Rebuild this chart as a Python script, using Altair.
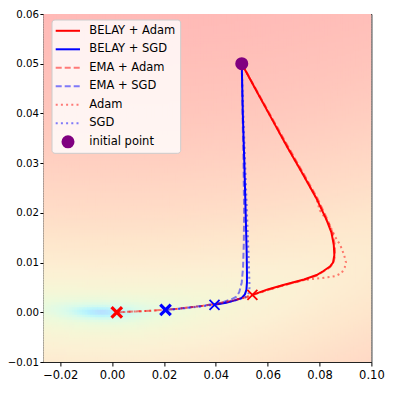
import altair as alt
import pandas as pd

# ---------------- data ----------------
belay_adam_x = [0.0500, 0.0560, 0.0620, 0.0676, 0.0732, 0.0787, 0.0827, 0.0846, 0.0855, 0.0857, 0.0852, 0.0840, 0.0815, 0.0789, 0.0740, 0.0660, 0.0600, 0.0541]
belay_adam_y = [0.0500, 0.0442, 0.0385, 0.0332, 0.0281, 0.0230, 0.0186, 0.0160, 0.0135, 0.0115, 0.0100, 0.0092, 0.0083, 0.0075, 0.0066, 0.0055, 0.0046, 0.0035]

belay_sgd_x = [0.0500, 0.0504, 0.0510, 0.0515, 0.0519, 0.0520, 0.0520, 0.0518, 0.0512, 0.0500, 0.0480, 0.0440, 0.0395]
belay_sgd_y = [0.0500, 0.0400, 0.0300, 0.0200, 0.0120, 0.0080, 0.0060, 0.0045, 0.0036, 0.0029, 0.0025, 0.0019, 0.0015]

ema_adam_x = [0.0500, 0.0562, 0.0623, 0.0680, 0.0736, 0.0791, 0.0831, 0.0850, 0.0859, 0.0860, 0.0854, 0.0841, 0.0815, 0.0789, 0.0740, 0.0660, 0.0600, 0.0541, 0.0500, 0.0450, 0.0400, 0.0350, 0.0300, 0.0250, 0.0200, 0.0150, 0.0100, 0.0060, 0.0018]
ema_adam_y = [0.0500, 0.0442, 0.0385, 0.0332, 0.0281, 0.0230, 0.0186, 0.0160, 0.0135, 0.0115, 0.0100, 0.0091, 0.0082, 0.0074, 0.0065, 0.0054, 0.0045, 0.0034, 0.0028, 0.0022, 0.0017, 0.0013, 0.0010, 0.0007, 0.0005, 0.0003, 0.0002, 0.0001, 0.0000]

ema_sgd_x = [0.0500, 0.0503, 0.0507, 0.0509, 0.0508, 0.0505, 0.0500, 0.0490, 0.0478, 0.0460, 0.0430, 0.0400, 0.0350, 0.0300, 0.0250, 0.0206]
ema_sgd_y = [0.0500, 0.0400, 0.0300, 0.0200, 0.0140, 0.0090, 0.0060, 0.0040, 0.0031, 0.0026, 0.0021, 0.0017, 0.0013, 0.0010, 0.0007, 0.0005]

adam_x = [0.0500, 0.0560, 0.0620, 0.0676, 0.0732, 0.0787, 0.0801, 0.0835, 0.0859, 0.0880, 0.0895, 0.0902, 0.0897, 0.0885, 0.0862, 0.0840, 0.0810, 0.0776, 0.0740, 0.0700, 0.0640, 0.0590, 0.0541, 0.0500, 0.0450, 0.0400, 0.0350, 0.0300, 0.0250, 0.0200, 0.0150, 0.0100, 0.0060, 0.0018]
adam_y = [0.0500, 0.0442, 0.0385, 0.0332, 0.0281, 0.0230, 0.0205, 0.0180, 0.0153, 0.0135, 0.0115, 0.0100, 0.0090, 0.0079, 0.0073, 0.0071, 0.0069, 0.0067, 0.0065, 0.0060, 0.0051, 0.0043, 0.0035, 0.0028, 0.0022, 0.0017, 0.0013, 0.0010, 0.0007, 0.0005, 0.0003, 0.0002, 0.0001, 0.0000]

sgd_x = [0.0500, 0.0506, 0.0513, 0.0520, 0.0526, 0.0529, 0.0530, 0.0528, 0.0522, 0.0510, 0.0490, 0.0460, 0.0420, 0.0380, 0.0330, 0.0280, 0.0240, 0.0206]
sgd_y = [0.0500, 0.0400, 0.0300, 0.0200, 0.0120, 0.0070, 0.0050, 0.0040, 0.0033, 0.0029, 0.0026, 0.0022, 0.0018, 0.0014, 0.0011, 0.0008, 0.0006, 0.0005]

series_names = ["BELAY + Adam", "BELAY + SGD", "EMA + Adam", "EMA + SGD", "Adam", "SGD"]
series_xy = [(belay_adam_x, belay_adam_y), (belay_sgd_x, belay_sgd_y), (ema_adam_x, ema_adam_y),
             (ema_sgd_x, ema_sgd_y), (adam_x, adam_y), (sgd_x, sgd_y)]

# end markers: (x, y, colour, bold)
end_x = [0.0541, 0.0395, 0.0206, 0.0018]
end_y = [0.0035, 0.0015, 0.0005, 0.0000]
end_color = ["red", "blue", "blue", "red"]
end_bold = [False, False, True, True]

init_x = [0.05]
init_y = [0.05]

x_ticks = [-0.02, 0.0, 0.02, 0.04, 0.06, 0.08, 0.10]
y_ticks = [-0.01, 0.0, 0.01, 0.02, 0.03, 0.04, 0.05, 0.06]

# landscape colour stops (log10 loss -> colour)
level_stops = [-6.5, -5.3, -4.5, -4.1, -3.7, -3.2, -2.7, -2.2, -1.7, -1.2, -0.8, -0.4, 0.0]
level_colors = ["#d8b4f0", "#b8e0ff", "#b4f0ff", "#c2f8f8", "#dafbea", "#ecfadc", "#f6f6d6",
                "#fcf0d4", "#fee6cc", "#ffd6c4", "#ffc6bc", "#ffb8b6", "#ffb3b3"]

# ---------------- layout ----------------
X0, X1 = -0.0265, 0.10
Y0, Y1 = -0.01, 0.06
W, H = 328, 348
FONT = "DejaVu Sans"

xs = alt.Scale(domain=[X0, X1], nice=False, zero=False)
ys = alt.Scale(domain=[Y0, Y1], nice=False, zero=False)

NX, NY = 127, 140
DX = (X1 - X0) / NX
DY = (Y1 - Y0) / NY

heat = alt.Chart(alt.sequence(0, NX * NY, as_="k")).transform_calculate(
    i=f"floor(datum.k / {NY})",
    j=f"datum.k % {NY}",
).transform_calculate(
    gx=f"{X0} + datum.i * {DX}",
    gy=f"{Y0} + datum.j * {DY}",
).transform_calculate(
    gx2=f"min(datum.gx + {DX * 1.35}, {X1})",
    gy2=f"min(datum.gy + {DY * 1.35}, {Y1})",
    cx=f"datum.gx + {DX / 2}",
    cy=f"datum.gy + {DY / 2}",
).transform_calculate(
    f="pow(datum.cx + 0.004, 2) + 100 * pow(datum.cy - datum.cx * datum.cx, 2)",
).transform_calculate(
    v="log(datum.f + 1e-9) / LN10",
).mark_rect(clip=True, strokeWidth=0).encode(
    x=alt.X("gx:Q", scale=xs, title=None,
            axis=alt.Axis(values=x_ticks, format=".2f", labelFlush=False,
                          labelFontSize=11.5, tickSize=4, labelPadding=3)),
    x2="gx2:Q",
    y=alt.Y("gy:Q", scale=ys, title=None,
            axis=alt.Axis(values=y_ticks, format=".2f", labelFlush=False,
                          labelFontSize=10.2, tickSize=3.5, labelPadding=1.5)),
    y2="gy2:Q",
    color=alt.Color("v:Q", scale=alt.Scale(domain=level_stops, range=level_colors,
                                           clamp=True, interpolate="rgb"), legend=None),
)

styles = {
    "BELAY + Adam": dict(color="red", opacity=1.0, dash=[1, 0]),
    "BELAY + SGD": dict(color="blue", opacity=1.0, dash=[1, 0]),
    "EMA + Adam": dict(color="red", opacity=0.5, dash=[6, 3]),
    "EMA + SGD": dict(color="blue", opacity=0.5, dash=[6, 3]),
    "Adam": dict(color="red", opacity=0.5, dash=[2, 3.2]),
    "SGD": dict(color="blue", opacity=0.5, dash=[2, 3.2]),
}

layers = [heat]
for name, (sx, sy) in zip(series_names, series_xy):
    df = pd.DataFrame({"x": sx, "y": sy, "o": list(range(len(sx)))})
    st = styles[name]
    kw = dict(color=st["color"], opacity=st["opacity"], strokeWidth=2, clip=True)
    if st["dash"] != [1, 0]:
        kw["strokeDash"] = st["dash"]
    layers.append(alt.Chart(df).mark_line(**kw).encode(
        x=alt.X("x:Q", scale=xs), y=alt.Y("y:Q", scale=ys), order="o:Q"))

xpath = "M-1,-1L1,1M-1,1L1,-1"
for bold in (False, True):
    df = pd.DataFrame({"x": [a for a, b in zip(end_x, end_bold) if b == bold],
                       "y": [a for a, b in zip(end_y, end_bold) if b == bold],
                       "c": [a for a, b in zip(end_color, end_bold) if b == bold]})
    layers.append(alt.Chart(df).mark_point(shape=xpath, filled=False, opacity=1,
                                           strokeWidth=3.2 if bold else 1.8,
                                           size=110 if bold else 100).encode(
        x=alt.X("x:Q", scale=xs), y=alt.Y("y:Q", scale=ys),
        stroke=alt.Stroke("c:N", scale=None)))

layers.append(alt.Chart(pd.DataFrame({"x": init_x, "y": init_y})).mark_circle(
    size=170, color="#800080", opacity=1).encode(
    x=alt.X("x:Q", scale=xs), y=alt.Y("y:Q", scale=ys)))

# ---------------- legend (drawn by hand) ----------------
one = pd.DataFrame({"a": [0]})
layers.append(alt.Chart(one).mark_rect(fill="white", fillOpacity=0.8, stroke="#cccccc",
                                       strokeWidth=1, cornerRadius=3).encode(
    x=alt.value(8.6), x2=alt.value(137.3), y=alt.value(6), y2=alt.value(139.3)))
legend_labels = series_names + ["initial point"]
for k, name in enumerate(legend_labels):
    yc = 16.8 + k * 18.5
    if name in styles:
        st = styles[name]
        kw = dict(color=st["color"], opacity=st["opacity"], strokeWidth=2)
        if st["dash"] != [1, 0]:
            kw["strokeDash"] = st["dash"]
        layers.append(alt.Chart(one).mark_rule(**kw).encode(
            x=alt.value(12.3), x2=alt.value(36.6), y=alt.value(yc)))
    else:
        layers.append(alt.Chart(one).mark_circle(size=170, color="#800080", opacity=1).encode(
            x=alt.value(24.6), y=alt.value(yc)))
    layers.append(alt.Chart(one).mark_text(align="left", baseline="middle", font=FONT,
                                           fontSize=11.5, color="black").encode(
        x=alt.value(45.9), y=alt.value(yc), text=alt.value(name)))

chart = alt.layer(*layers).properties(
    width=W, height=H,
    autosize=alt.AutoSizeParams(type="none"),
    padding={"left": 35.4, "top": 6, "right": 13.6, "bottom": 23},
).configure_view(stroke="#222222", strokeWidth=1).configure_axis(
    labelFont=FONT, labelColor="black", tickColor="black",
    tickWidth=1, domain=False, grid=False,
)

chart.save("out.html", embed_options={"renderer": "svg", "actions": False})
